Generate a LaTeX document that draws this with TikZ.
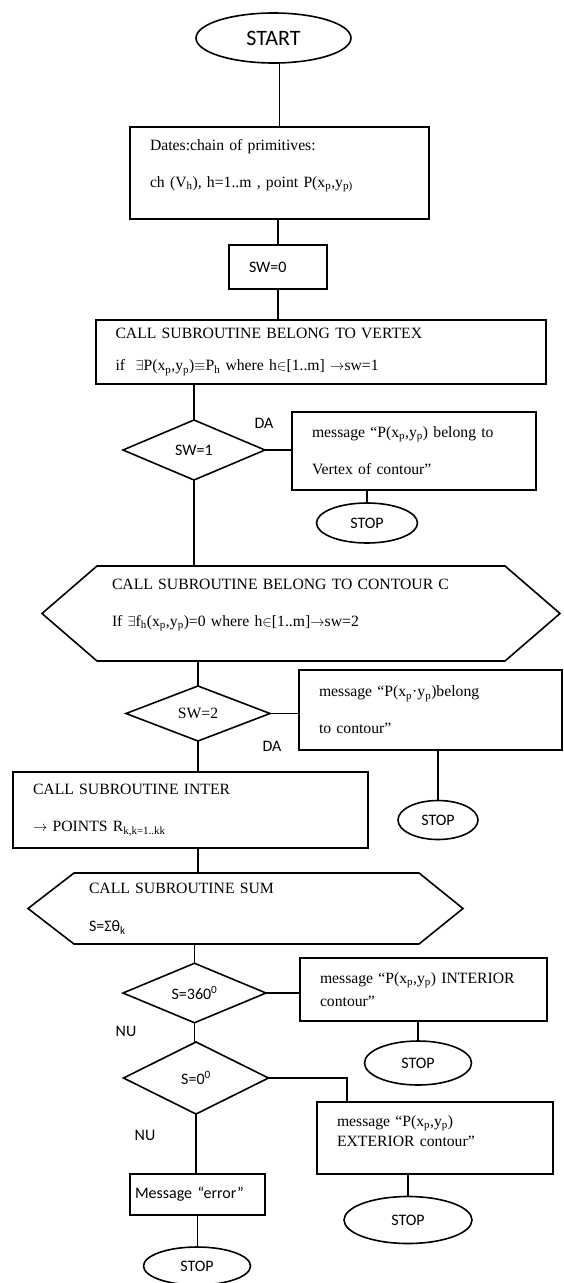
\documentclass[tikz,border=0pt]{standalone}
\usepackage{fontspec}
\setmainfont{Liberation Serif}
\setsansfont{Carlito}
\usetikzlibrary{shapes.geometric}

\begin{document}
\begin{tikzpicture}[x=1pt,y=-1pt,line width=1.6pt,
    txt/.style={font=\fontsize{15.7}{18}\selectfont},
    lbl/.style={font=\sffamily\fontsize{16}{18}\selectfont},
    term/.style={draw, ellipse, inner sep=0pt, outer sep=0pt, lbl},
    box/.style={draw, rectangle, align=left, inner xsep=20pt, inner ysep=0pt, outer sep=0pt, txt},
    cond/.style={draw, diamond, inner sep=0pt, outer sep=0pt, lbl},
    sub/.style={rectangle, align=left, inner xsep=15pt, inner ysep=0pt, outer sep=0pt, txt}]
  \useasboundingbox (0,0) rectangle (564,1283);

  % top part
  \node[term, minimum width=155pt, minimum height=50pt, font=\sffamily\fontsize{22}{24}\selectfont] (start) at (273.5,38) {START};
  \node[box, minimum width=299pt, minimum height=92pt, text width=259pt] (dates) at (279.5,173)
    {Dates:chain of primitives:\\[19pt] ch (V\textsubscript{h}), h=1..m , point P(x\textsubscript{p},y\textsubscript{p)}\rule[-20pt]{0pt}{20pt}};
  \node[box, minimum width=98pt, minimum height=44pt, text width=58pt, lbl] (sw0) at (278,267) {SW=0};
  \node[box, minimum width=450pt, minimum height=64pt, text width=411pt, inner xsep=19pt] (vtx) at (321,352)
    {CALL SUBROUTINE BELONG TO VERTEX\\[14pt] if\ \ $\exists$P(x\textsubscript{p},y\textsubscript{p})$\equiv$P\textsubscript{h} where h$\in$[1..m] $\rightarrow$sw=1};

  % vertex test
  \node[cond, minimum width=142pt, minimum height=60pt] (sw1) at (194,450) {SW=1};
  \node[lbl] (da1) at (264,423) {DA};
  \node[box, minimum width=244pt, minimum height=78pt, text width=204pt] (msg1) at (414,451)
    {message ``P(x\textsubscript{p},y\textsubscript{p}) belong to\\[19pt] Vertex of contour''};
  \node[term, minimum width=101pt, minimum height=40pt] (stop1) at (367,523) {STOP};

  % contour test
  \node[sub, minimum width=408pt, minimum height=95pt, text width=378pt] (cont) at (301,613.5)
    {CALL SUBROUTINE BELONG TO CONTOUR C\\[19pt] If $\exists$f\textsubscript{h}(x\textsubscript{p},y\textsubscript{p})=0 where h$\in$[1..m]$\rightarrow$sw=2\rule[-22pt]{0pt}{22pt}};
  \draw (cont.north west) -- (cont.north east) -- ([xshift=55pt]cont.east) -- (cont.south east)
    -- (cont.south west) -- ([xshift=-55pt]cont.west) -- cycle;
  \node[cond, minimum width=144pt, minimum height=55pt, txt] (sw2) at (198,713.5) {SW=2};
  \node[lbl] (da2) at (272,746) {DA};
  \node[box, minimum width=263pt, minimum height=80pt, text width=223pt] (msg2) at (430.5,710)
    {message ``P(x\textsubscript{p}·y\textsubscript{p})belong\\[19pt] to contour''};
  \node[term, minimum width=80pt, minimum height=39pt] (stop2) at (438,820) {STOP};

  % angle sum
  \node[box, minimum width=355pt, minimum height=76pt, text width=315pt] (inter) at (190.5,810)
    {CALL SUBROUTINE INTER\\[19pt] $\rightarrow$ POINTS R\textsubscript{k,k=1..kk}};
  \node[sub, minimum width=345pt, minimum height=71pt, text width=315pt] (sum) at (246.5,908.5)
    {CALL SUBROUTINE SUM\\[20pt] {\sffamily\fontsize{16}{18}\selectfont S=Σθ\textsubscript{k}}};
  \draw (sum.north west) -- (sum.north east) -- ([xshift=44pt]sum.east) -- (sum.south east)
    -- (sum.south west) -- ([xshift=-46pt]sum.west) -- cycle;
  \node[cond, minimum width=143pt, minimum height=54pt] (s360) at (194.5,993) {S=360\textsuperscript{0}};
  \node[box, minimum width=247pt, minimum height=63pt, text width=207pt] (msg3) at (423.5,989.5)
    {message ``P(x\textsubscript{p},y\textsubscript{p}) INTERIOR\\[5pt] contour''};
  \node[term, minimum width=107pt, minimum height=44pt] (stop3) at (418,1063) {STOP};
  \node[lbl] (nu1) at (126,1031) {NU};
  \node[cond, minimum width=145pt, minimum height=72pt] (s0) at (196,1078) {S=0\textsuperscript{0}};
  \node[box, minimum width=236pt, minimum height=72pt, text width=196pt] (msg4) at (435,1138)
    {message ``P(x\textsubscript{p},y\textsubscript{p})\\[2pt] EXTERIOR contour''\rule[-14pt]{0pt}{14pt}};
  \node[term, minimum width=128pt, minimum height=47pt] (stop4) at (408,1220) {STOP};
  \node[lbl] (nu2) at (145,1135) {NU};
  \node[box, minimum width=135pt, minimum height=41pt, text width=125pt, inner xsep=5pt, lbl] (err) at (197.5,1194.5) {Message ``error''};
  \node[term, minimum width=107pt, minimum height=38pt] (stop5) at (197,1266) {STOP};

  \begin{scope}[every edge/.style={draw, line width=1.6pt}]
    \path (start.south -| dates.north) edge (dates.north);
    \path (dates.south -| sw0.north) edge (sw0.north);
    \path (sw0.south) edge (sw0.south |- vtx.north);
    \path (sw1.north |- vtx.south) edge (sw1.north);
    \path (sw1.east) edge (sw1.east -| msg1.west);
    \path (stop1.north |- msg1.south) edge (stop1.north);
    \path (sw1.south) edge (sw1.south |- cont.north);
    \path (sw2.north |- cont.south) edge (sw2.north);
    \path (sw2.east) edge (sw2.east -| msg2.west);
    \path (stop2.north |- msg2.south) edge (stop2.north);
    \path (sw2.south) edge (sw2.south |- inter.north);
    \path (sw2.south |- inter.south) edge (sw2.south |- sum.north);
    \path (s360.north |- sum.south) edge (s360.north);
    \path (s360.east) edge (s360.east -| msg3.west);
    \path (stop3.north |- msg3.south) edge (stop3.north);
    \path (s360.south) edge (s360.south |- s0.north);
    \path (stop4.north |- msg4.south) edge (stop4.north);
    \path (s0.south) edge (s0.south |- err.north);
    \path (err.south) edge (err.south |- stop5.north);
  \end{scope}
  \draw (s0.east) -| ([xshift=30pt]msg4.north west);
\end{tikzpicture}
\end{document}
